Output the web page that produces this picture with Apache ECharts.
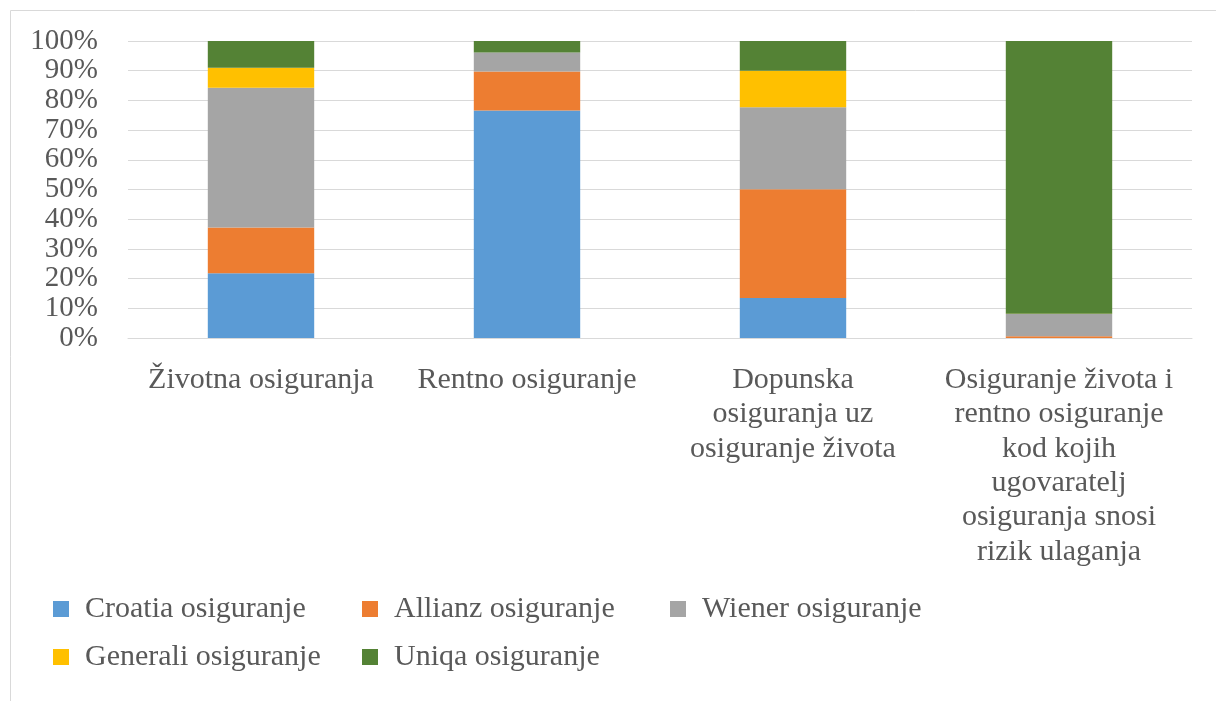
<!DOCTYPE html>
<html><head><meta charset="utf-8">
<script src="https://cdn.jsdelivr.net/npm/echarts@6/dist/echarts.min.js"></script>
<style>html,body{margin:0;padding:0;background:#fff}#c{width:1216px;height:701px}</style>
</head><body><div id="c"></div>
<script>
const categories = ['Životna osiguranja', 'Rentno osiguranje', 'Dopunska\nosiguranja uz\nosiguranje života', 'Osiguranje života i\nrentno osiguranje\nkod kojih\nugovaratelj\nosiguranja snosi\nrizik ulaganja'];
const seriesNames = ['Croatia osiguranje', 'Allianz osiguranje', 'Wiener osiguranje', 'Generali osiguranje', 'Uniqa osiguranje'];
const croatia = [21.8, 76.6, 13.5, 0];
const allianz = [15.4, 13.1, 36.6, 0.6];
const wiener = [47.1, 6.4, 27.6, 7.5];
const generali = [6.7, 0, 12.3, 0.1];
const uniqa = [9.0, 3.9, 10.0, 91.8];
const colors = ['#5B9BD5', '#ED7D31', '#A5A5A5', '#FFC000', '#548235'];
const values = [croatia, allianz, wiener, generali, uniqa];

const font = 'Liberation Serif, Times New Roman, serif';
const chart = echarts.init(document.getElementById('c'));
// legend laid out in Excel-style columns
const legendPos = [[53, 593], [362, 593], [670, 593], [53, 641], [362, 641]];
const legends = seriesNames.map((n, i) => ({
  orient: 'horizontal', itemWidth: 16, itemHeight: 16, icon: 'rect', padding: 0,
  left: legendPos[i][0], top: legendPos[i][1], data: [n],
  textStyle: { fontFamily: font, fontSize: 30, lineHeight: 32, color: '#595959', padding: [0, 0, 0, 11] }
}));
chart.setOption({
  animation: false,
  color: colors,
  graphic: [{ type: 'rect', shape: { x: 10.5, y: 10.5, width: 1230, height: 720 }, style: { fill: 'none', stroke: '#d9d9d9', lineWidth: 1 }, silent: true }],
  grid: { left: 128, right: 24, top: 41, bottom: 363 },
  legend: legends,
  xAxis: {
    type: 'category', data: categories,
    axisLine: { lineStyle: { color: '#d9d9d9' } },
    axisTick: { show: false },
    axisLabel: { fontFamily: font, fontSize: 30, color: '#595959', lineHeight: 34.3, margin: 25, interval: 0, align: 'center' }
  },
  yAxis: {
    type: 'value', min: 0, max: 100, interval: 10,
    axisLine: { show: false }, axisTick: { show: false },
    splitLine: { lineStyle: { color: '#d9d9d9' } },
    axisLabel: { formatter: '{value}%', fontFamily: font, fontSize: 29, color: '#595959', margin: 30, padding: [4, 0, 0, 0] }
  },
  series: seriesNames.map((n, i) => ({
    name: n, type: 'bar', stack: 'total', barWidth: '40%', data: values[i],
    itemStyle: { color: colors[i] }
  }))
});
</script></body></html>
